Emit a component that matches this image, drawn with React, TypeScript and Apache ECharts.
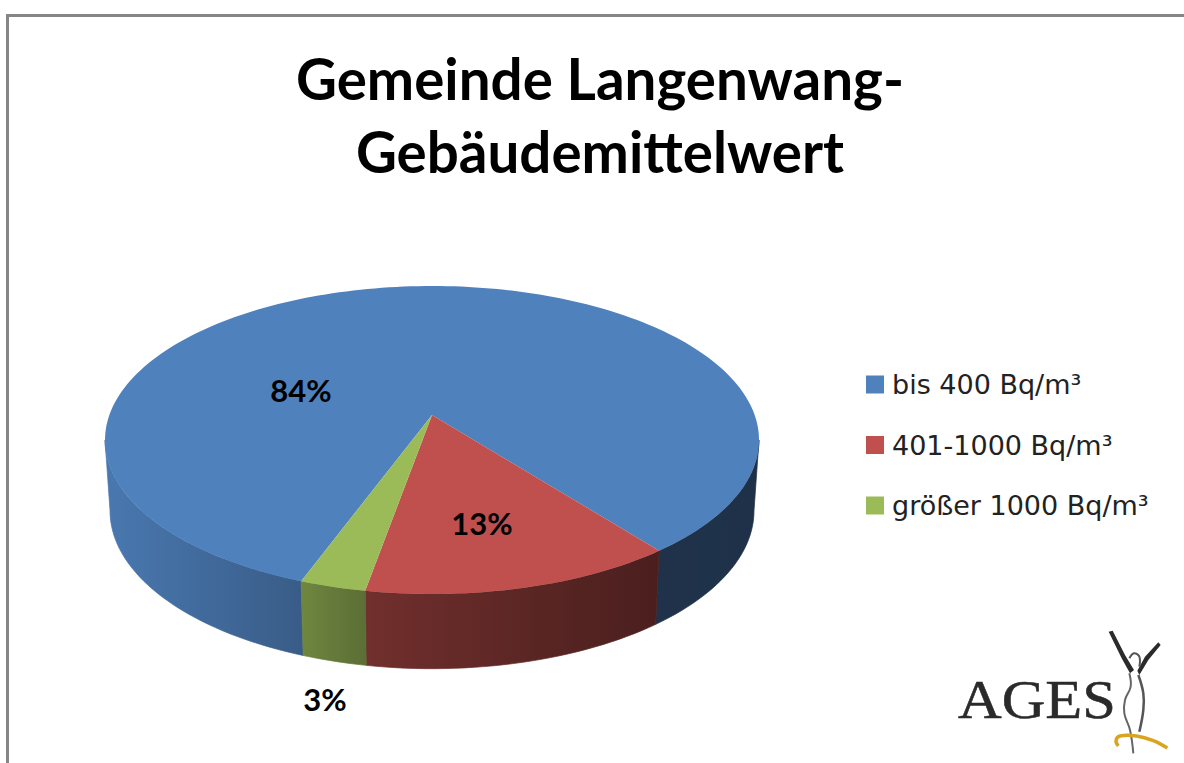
import React, { useEffect, useRef } from "react";
import * as echarts from "echarts";

const titleLines = ["Gemeinde Langenwang-", "Gebäudemittelwert"];
const categories = ["bis 400 Bq/m³", "401-1000 Bq/m³", "größer 1000 Bq/m³"];
const percentValues = [83.9, 13.3, 2.8];
const sliceColors = ["#4f81bd", "#c0504d", "#9bbb59"];
const logoWord = "AGES";

// projection of the tilted disc
const FIRST_SLICE_DEG = 110.1; // screen angle, clockwise from +x
const TOP = { cx: 432, cy: 440, rx: 327, ry: 154 };
const BOTTOM = { cx: 432, cy: 510.7, rx: 322, ry: 158 };
const PERSP = 25 / 154;
const LABEL_AT: number[][] = [[301, 390], [482, 523], [325, 699]];
const SHADE_X = [105, 300, 365, 500, 655, 760];
const SHADE_K = [0.93, 0.72, 0.59, 0.49, 0.39, 0.38];

function project(e: typeof TOP, deg: number): number[] {
  const a = (deg * Math.PI) / 180;
  const x = Math.cos(a);
  const y = Math.sin(a);
  const d = 1 - PERSP * y;
  const u = (x * Math.sqrt(1 - PERSP * PERSP)) / d;
  const v = (y - PERSP) / d;
  return [e.cx + u * e.rx, e.cy + v * e.ry];
}

function arc(e: typeof TOP, a0: number, a1: number): number[][] {
  const n = Math.max(2, Math.ceil(Math.abs(a1 - a0) / 1.5));
  const pts: number[][] = [];
  for (let i = 0; i <= n; i++) pts.push(project(e, a0 + ((a1 - a0) * i) / n));
  return pts;
}

function shadeAt(px: number): number {
  if (px <= SHADE_X[0]) return SHADE_K[0];
  for (let i = 1; i < SHADE_X.length; i++) {
    if (px <= SHADE_X[i]) {
      const t = (px - SHADE_X[i - 1]) / (SHADE_X[i] - SHADE_X[i - 1]);
      return SHADE_K[i - 1] + t * (SHADE_K[i] - SHADE_K[i - 1]);
    }
  }
  return SHADE_K[SHADE_K.length - 1];
}

function scaleColor(hex: string, k: number): string {
  const n = parseInt(hex.slice(1), 16);
  const c = [(n >> 16) & 255, (n >> 8) & 255, n & 255].map((v) => Math.round(v * k));
  return `rgb(${c[0]},${c[1]},${c[2]})`;
}

function wall(a0: number, a1: number, color: string) {
  const top = arc(TOP, a0, a1);
  const bottom = arc(BOTTOM, a1, a0);
  const points = top.concat(bottom);
  const xs = points.map((p) => p[0]);
  const x0 = Math.min(...xs);
  const x1 = Math.max(...xs);
  const stops = [];
  for (let i = 0; i <= 8; i++) {
    const t = i / 8;
    stops.push({ offset: t, color: scaleColor(color, shadeAt(x0 + (x1 - x0) * t)) });
  }
  const fill = new echarts.graphic.LinearGradient(0, 0, 1, 0, stops);
  return {
    type: "polygon",
    shape: { points },
    style: { fill, stroke: fill, lineWidth: 0.7 },
    silent: true,
  };
}

function renderSlice(params: any, api: any) {
  const i = params.seriesIndex;
  const total = percentValues.reduce((s, v) => s + v, 0);
  const before = percentValues.slice(0, i).reduce((s, v) => s + v, 0);
  const value = api.value(0);
  const start = FIRST_SLICE_DEG + (before / total) * 360;
  const end = start + (value / total) * 360;
  const color = sliceColors[i];
  const vis0 = (Math.asin(PERSP) * 180) / Math.PI;
  const vis1 = 180 - vis0;
  const children: any[] = [];
  for (const shift of [0, 360]) {
    const a0 = Math.max(start, vis0 + shift);
    const a1 = Math.min(end, vis1 + shift);
    if (a1 > a0) children.push(wall(a0, a1, color));
  }
  const apex = [TOP.cx, TOP.cy - PERSP * TOP.ry];
  children.push({
    type: "polygon",
    shape: { points: [apex].concat(arc(TOP, start, end)) },
    style: { fill: color },
    z2: 5,
  });
  return { type: "group", children };
}

const logo = (x: number, y: number) => [930 + x / 3, 610 + y / 3];
const logoParts = (): any[] => {
  const poly = (pts: number[][], fill: string) => ({
    type: "polygon",
    shape: { points: pts.map((p) => logo(p[0], p[1])) },
    style: { fill },
  });
  const line = (pts: number[][], stroke: string, lineWidth: number) => ({
    type: "polyline",
    shape: { points: pts.map((p) => logo(p[0], p[1])), smooth: 0.4 },
    style: { stroke, lineWidth, fill: "none" },
  });
  return [
    {
      type: "text",
      x: 958,
      y: 700,
      scaleX: 1.12,
      style: {
        text: logoWord,
        fill: "#2a2a2a",
        stroke: "#2a2a2a",
        lineWidth: 0.5,
        fontFamily: "Liberation Serif",
        fontSize: 54,
        align: "left",
        verticalAlign: "middle",
      },
    },
    poly([[536, 65], [548, 62], [585, 135], [612, 180], [600, 190], [575, 145]], "#2b2b2b"),
    poly([[685, 97], [692, 105], [655, 150], [628, 195], [622, 182], [645, 140]], "#2b2b2b"),
    line([[598, 190], [602, 230], [585, 270], [583, 310], [600, 360], [610, 430]], "#666", 2),
    line([[625, 195], [640, 250], [640, 300], [628, 365]], "#555", 2.5),
    line([[598, 145], [612, 130], [628, 140], [628, 170]], "#555", 2),
    line([[565, 408], [558, 392], [570, 378], [620, 378], [670, 392], [712, 414]], "#d9a520", 3.5),
  ];
};

const labelParts = (): any[] =>
  percentValues.map((v, i) => ({
    type: "text",
    x: LABEL_AT[i][0],
    y: LABEL_AT[i][1],
    z: 20,
    style: {
      text: `${Math.round(v)}%`,
      fill: "#000",
      fontFamily: "Lato",
      fontWeight: "bold",
      fontSize: 31,
      align: "center",
      verticalAlign: "middle",
    },
  }));

export default function App() {
  const ref = useRef<HTMLDivElement>(null);
  useEffect(() => {
    const chart = echarts.init(ref.current!, undefined, { renderer: "svg" });
    chart.setOption({
      animation: false,
      backgroundColor: "#ffffff",
      title: {
        text: titleLines.join("\n"),
        left: 595,
        top: 36,
        textAlign: "center",
        textStyle: {
          fontFamily: 'Lato, "Noto Sans", sans-serif',
          fontWeight: "bold",
          fontSize: 56.5,
          lineHeight: 73,
          color: "#000",
        },
      },
      legend: {
        orient: "vertical",
        left: 861,
        top: 366,
        itemWidth: 18,
        itemHeight: 18,
        itemGap: 33.5,
        selectedMode: false,
        icon: "rect",
        data: categories,
        textStyle: {
          fontFamily: '"DejaVu Sans", sans-serif',
          fontSize: 27,
          lineHeight: 18,
          color: "#222",
          padding: [0, 0, 0, 3],
        },
      },
      series: categories.map((name, i) => ({
        type: "custom",
        name,
        coordinateSystem: "none",
        data: [[percentValues[i]]],
        itemStyle: { color: sliceColors[i] },
        renderItem: renderSlice,
        silent: true,
      })),
      graphic: [
        { type: "rect", shape: { x: 6, y: 14, width: 1178, height: 3 }, style: { fill: "#868686" } },
        { type: "rect", shape: { x: 6, y: 14, width: 3, height: 749 }, style: { fill: "#868686" } },
        { type: "group", children: logoParts() },
        ...labelParts(),
      ],
    });
    return () => chart.dispose();
  }, []);
  return <div ref={ref} style={{ position: "fixed", left: 0, top: 0, width: 1184, height: 763 }} />;
}
